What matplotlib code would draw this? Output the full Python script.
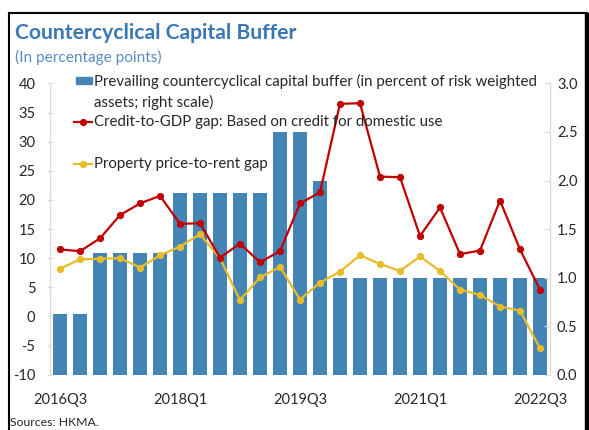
import matplotlib
matplotlib.use("Agg")
import matplotlib.pyplot as plt
from matplotlib.patches import Rectangle
from matplotlib.lines import Line2D

plt.rcParams['font.family'] = ['Lato', 'DejaVu Sans']

quarters = ['2016Q3', '2016Q4', '2017Q1', '2017Q2', '2017Q3', '2017Q4',
            '2018Q1', '2018Q2', '2018Q3', '2018Q4', '2019Q1', '2019Q2',
            '2019Q3', '2019Q4', '2020Q1', '2020Q2', '2020Q3', '2020Q4',
            '2021Q1', '2021Q2', '2021Q3', '2021Q4', '2022Q1', '2022Q2', '2022Q3']
ccyb = [0.625, 0.625, 1.25, 1.25, 1.25, 1.25, 1.875, 1.875, 1.875, 1.875, 1.875,
        2.5, 2.5, 2.0, 1.0, 1.0, 1.0, 1.0, 1.0, 1.0, 1.0, 1.0, 1.0, 1.0, 1.0]
credit_gap = [11.5, 11.2, 13.4, 17.4, 19.4, 20.7, 15.9, 16.0, 10.1, 12.5, 9.3, 11.2,
              19.4, 21.3, 36.5, 36.6, 24.0, 23.9, 13.8, 18.7, 10.7, 11.3, 19.9, 11.5, 4.6]
rent_gap = [8.2, 9.8, 9.9, 10.0, 8.4, 10.5, 12.0, 14.1, 10.0, 2.8, 6.7, 8.5,
            2.9, 5.8, 7.7, 10.5, 9.0, 7.8, 10.3, 7.8, 4.6, 3.7, 1.7, 1.0, -5.5]
xtick_labels = ['2016Q3', '2018Q1', '2019Q3', '2021Q1', '2022Q3']
left_ticks = [-10, -5, 0, 5, 10, 15, 20, 25, 30, 35, 40]
right_ticks = [0.0, 0.5, 1.0, 1.5, 2.0, 2.5, 3.0]

BLUE = '#4585B5'
RED = '#C00000'
YEL = '#E8BC28'
TXT = '#262626'
GRID = '#D9D9D9'

W, H = 589, 430
fig = plt.figure(figsize=(W / 100, H / 100), dpi=100)

ax_l, ax_r, ax_t, ax_b = 50, 550, 83.4, 374.7
ax = fig.add_axes([ax_l / W, 1 - ax_b / H, (ax_r - ax_l) / W, (ax_b - ax_t) / H])
ax2 = ax.twinx()
ax.set_zorder(2)
ax.patch.set_visible(False)

x = list(range(len(quarters)))
ax2.bar(x, ccyb, width=0.66, color=BLUE, zorder=1)
ax.plot(x, credit_gap, color=RED, lw=1.6, marker='o', ms=4.2, zorder=4)
ax.plot(x, rent_gap, color=YEL, lw=1.6, marker='o', ms=4.2, zorder=3)

ax.set_xlim(-0.5, len(quarters) - 0.5)
ax.set_ylim(-10, 40)
ax2.set_ylim(0, 3)
ax.set_yticks(left_ticks)
ax.set_yticklabels([str(v) for v in left_ticks])
ax2.set_yticks(right_ticks)
ax2.set_yticklabels([f'{v:.1f}' for v in right_ticks])
ax.set_xticks([quarters.index(q) for q in xtick_labels])
ax.set_xticklabels(xtick_labels)

for a in (ax, ax2):
    for s in ('top', 'bottom'):
        a.spines[s].set_visible(False)
    a.spines['left'].set_color(GRID)
    a.spines['right'].set_color(GRID)
    a.spines['left'].set_linewidth(0.8)
    a.spines['right'].set_linewidth(0.8)
ax.tick_params(axis='y', direction='inout', length=5, color=GRID, labelsize=10.5,
               labelcolor=TXT, pad=8)
ax2.tick_params(axis='y', direction='in', length=4, color=GRID, labelsize=10.5,
                labelcolor=TXT, pad=5)
ax.tick_params(axis='x', length=0, labelsize=10.5, labelcolor=TXT, pad=13)
ax2.tick_params(axis='x', length=0)

# legend (manual, to match layout)
def ax_y(py):
    return (ax_b - py) / (ax_b - ax_t)

def ax_x(px):
    return (px - ax_l) / (ax_r - ax_l)

leg_fs = 10.5
ax.add_patch(Rectangle((ax_x(76), ax_y(83.5)), ax_x(92) - ax_x(76), ax_y(76.5) - ax_y(83.5),
                       transform=ax.transAxes, color=BLUE, clip_on=False, zorder=5))
t1 = ax.text(ax_x(93.5), ax_y(81), 'Prevailing countercyclical capital buffer (in percent of risk weighted',
             transform=ax.transAxes, va='center', ha='left', fontsize=leg_fs, color=TXT, zorder=6)
t2 = ax.text(ax_x(93.5), ax_y(102), 'assets; right scale)', transform=ax.transAxes,
             va='center', ha='left', fontsize=leg_fs, color=TXT, zorder=6)
ax.add_line(Line2D([ax_x(74), ax_x(92)], [ax_y(122), ax_y(122)], transform=ax.transAxes,
                   color=RED, lw=1.6, clip_on=False, zorder=5))
ax.add_line(Line2D([ax_x(83)], [ax_y(122)], transform=ax.transAxes, color=RED,
                   marker='o', ms=4.2, clip_on=False, zorder=5))
t3 = ax.text(ax_x(93.5), ax_y(122), 'Credit-to-GDP gap: Based on credit for domestic use',
             transform=ax.transAxes, va='center', ha='left', fontsize=leg_fs, color=TXT, zorder=6)
ax.add_line(Line2D([ax_x(74), ax_x(92)], [ax_y(164), ax_y(164)], transform=ax.transAxes,
                   color=YEL, lw=1.6, clip_on=False, zorder=5))
ax.add_line(Line2D([ax_x(83)], [ax_y(164)], transform=ax.transAxes, color=YEL,
                   marker='o', ms=4.2, clip_on=False, zorder=5))
t4 = ax.text(ax_x(93.5), ax_y(164), 'Property price-to-rent gap',
             transform=ax.transAxes, va='center', ha='left', fontsize=leg_fs, color=TXT, zorder=6)

title = fig.text(15 / W, 1 - 33 / H, 'Countercyclical Capital Buffer', fontsize=13.5,
                 fontweight='bold', color='#3A78B5', ha='left', va='center')
sub = fig.text(15 / W, 1 - 57 / H, '(In percentage points)', fontsize=10.5,
               color='#5A8CC4', ha='left', va='center')
src = fig.text(10 / W, 1 - 423 / H, 'Sources: HKMA.', fontsize=8.8, color=TXT,
               ha='left', va='center')

# fit text widths to the reference
fig.canvas.draw()
r = fig.canvas.get_renderer()
def fit(t, target):
    w = t.get_window_extent(r).width
    t.set_fontsize(t.get_fontsize() * target / w)
fit(t1, 448)
s = t1.get_fontsize()
for t in (t2, t3, t4):
    t.set_fontsize(s)
fit(title, 281)
fit(sub, 147)

# outer frame
fig.add_artist(Line2D([9 / W, 9 / W], [0, 1 - 13 / H], color='black', lw=1.5))
fig.add_artist(Line2D([9 / W, 587 / W], [1 - 13 / H, 1 - 13 / H], color='black', lw=1.5))
fig.add_artist(Rectangle((585 / W, 0), 4 / W, 1 - 12.5 / H, color='black', zorder=20))

fig.savefig('out.png', dpi=100, facecolor='white')
